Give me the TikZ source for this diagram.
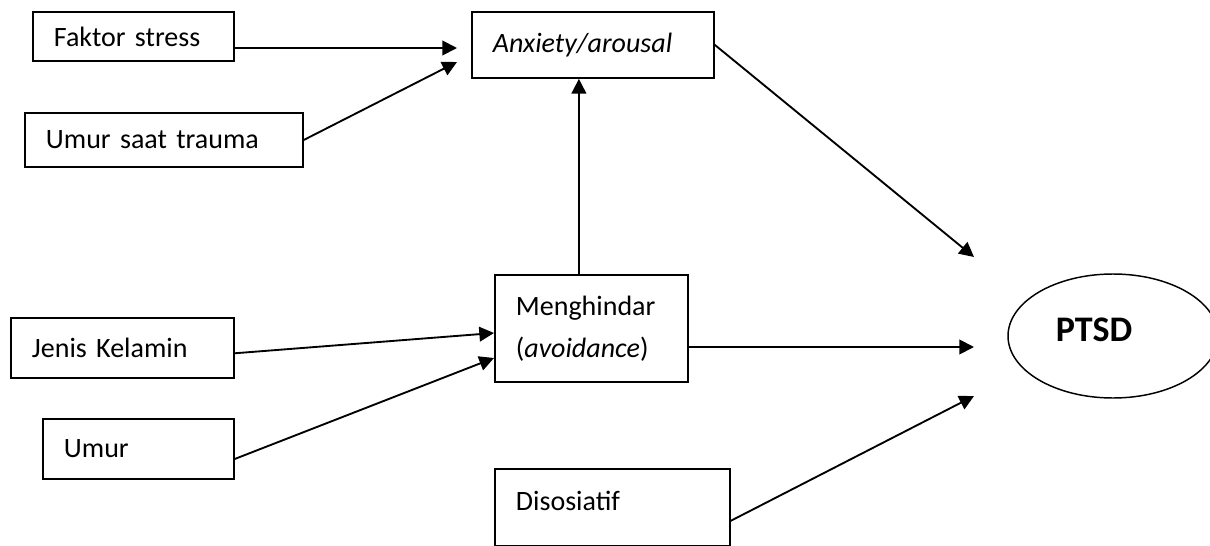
\documentclass[tikz,border=0pt]{standalone}
\usepackage{fontspec}
\setmainfont{Carlito}
\usetikzlibrary{arrows.meta,shapes.geometric}

\tikzset{every picture/.style={line width=1.4pt}}
\tikzset{
  kotak/.style={draw, anchor=north west, align=left, inner xsep=15.75pt, inner ysep=0pt, font=\fontsize{21}{31.5}\selectfont},
  lonjong/.style={draw, ellipse, line width=1.1pt, minimum width=157.5pt, minimum height=93pt, font=\fontsize{27}{32}\selectfont\bfseries},
  panah/.style={-{Triangle[length=11pt,width=11pt]}},
}

\begin{document}
\begin{tikzpicture}[x=0.75pt,y=0.75pt,yscale=-1,xscale=1]
\useasboundingbox (0,0) rectangle (1210,546);

%Shape: Rectangle [faktor stress]
\node[kotak, text width=119.25pt, minimum height=36.75pt] (faktor) at (32,11) {Faktor stress};
%Shape: Rectangle [umur saat trauma]
\node[kotak, text width=177pt, minimum height=40.5pt] (umurtrauma) at (24,112) {Umur saat trauma};
%Shape: Rectangle [anxiety]
\node[kotak, text width=150pt, minimum height=49.5pt] (anx) at (471,11) {\textit{Anxiety/arousal}};
%Shape: Rectangle [jenis kelamin]
\node[kotak, text width=135.75pt, minimum height=45pt] (jenis) at (10,317) {Jenis Kelamin};
%Shape: Rectangle [umur]
\node[kotak, text width=111.75pt, minimum height=45pt] (umur) at (42,418) {Umur};
%Shape: Rectangle [menghindar]
\node[kotak, text width=113.25pt, minimum height=80.25pt] (hindar) at (494,274) {Menghindar\\(\textit{avoidance})};
%Shape: Rectangle [disosiatif]
\node[kotak, text width=144.75pt, minimum height=57.75pt] (disos) at (494,468) {Disosiatif\\[-22pt]\mbox{}};
%Shape: Ellipse [ptsd]
\node[lonjong] (ptsd) at (1113,336) {\raisebox{9pt}{\hspace*{-28.5pt}PTSD}};

% arrow ends
\coordinate (anxA) at (457,48);
\coordinate (anxB) at (457,62);
\coordinate (hinA) at (494,333);
\coordinate (hinB) at (494,358);
\coordinate (ptsdA) at (974,257);
\coordinate (ptsdB) at (974,347);
\coordinate (ptsdC) at (974,396);

% Arrows
\draw[panah] (faktor.east |- anxA) -- (anxA);
\draw[panah] (umurtrauma.east) -- (anxB);
\draw[panah] ([yshift=4pt]jenis.east) -- (hinA);
\draw[panah] ([yshift=7.5pt]umur.east) -- (hinB);
\draw[panah] ([xshift=-9.4pt]hindar.north) -- ([xshift=-9.4pt]hindar.north |- anx.south);
\draw[panah] (anx.east) -- (ptsdA);
\draw[panah] (hindar.east |- ptsdB) -- (ptsdB);
\draw[panah] ([yshift=10pt]disos.east) -- (ptsdC);

\end{tikzpicture}
\end{document}
